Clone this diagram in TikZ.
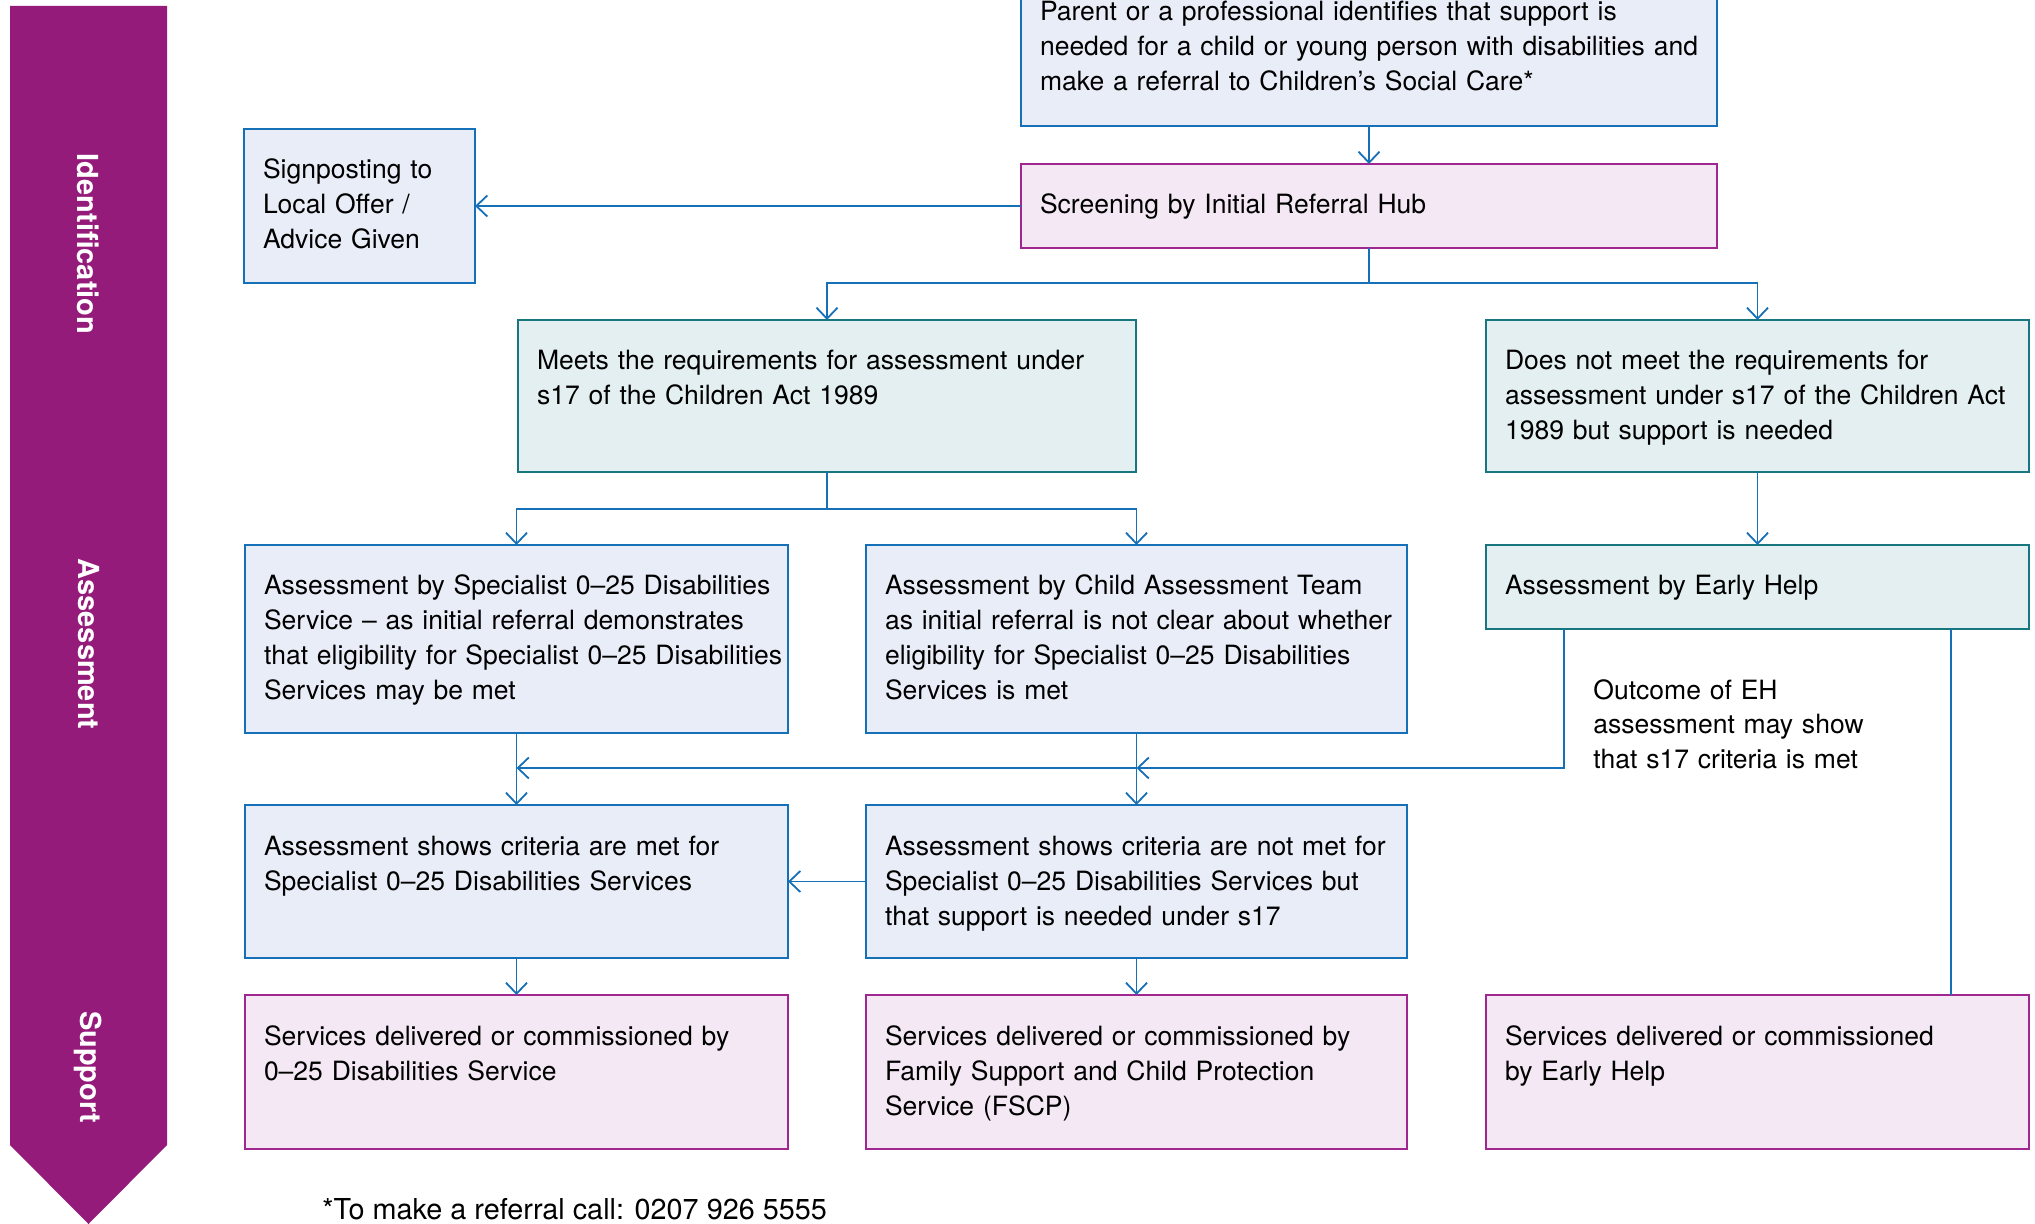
\documentclass[tikz,border=0pt]{standalone}
\usepackage{fontspec}
\setmainfont{TeX Gyre Heros}
\usetikzlibrary{arrows.meta}
\definecolor{bandpurple}{HTML}{951B7B}
\definecolor{lineblue}{HTML}{1570B8}
\definecolor{fillblue}{HTML}{E9EDF8}
\definecolor{lineteal}{HTML}{17767E}
\definecolor{fillteal}{HTML}{E3EFF0}
\definecolor{linepink}{HTML}{A0278F}
\definecolor{fillpink}{HTML}{F3E8F4}

\begin{document}
\begin{tikzpicture}[x=0.5pt, y=-0.5pt, >={Straight Barb[length=5.5pt,width=10.5pt]},
    box/.style={draw, line width=1.1pt, anchor=north west, align=left, inner xsep=9.5pt, inner ysep=0pt,
      outer sep=0pt, text height=25pt, font=\fontsize{13.26}{17.5}\selectfont,
      execute at begin node={\rightskip=0pt minus 20pt\relax}},
    wh/.style 2 args={text width=#1*0.5pt-19pt, text depth=#2*0.5pt-25pt},
    bluebox/.style={box, draw=lineblue, fill=fillblue},
    tealbox/.style={box, draw=lineteal, fill=fillteal},
    pinkbox/.style={box, draw=linepink, fill=fillpink},
    link/.style={draw=lineblue, line width=0.9pt},
    band/.style={rotate=-90, text=white, font=\fontsize{14.5}{17}\selectfont\bfseries}]
          \useasboundingbox (0,0) rectangle (2035,1224);

          \fill[bandpurple] (10,6) -- (167,6) -- (167,1145) -- (88.5,1224) -- (10,1145) -- cycle;
          \node (id) [band] at (88.5,244) {Identification};
          \node (as) [band] at (88.5,644) {Assessment};
          \node (su) [band] at (88.5,1067) {Support};

          \node (1) [bluebox, wh={696}{155}] at (1021,-29) {Parent or a professional identifies that support is\\needed for a child or young person with disabilities and\\make a referral to Children’s Social Care*};
          \node (2) [pinkbox, wh={696}{84}] at (1021,164) {Screening by Initial Referral Hub};
          \node (3) [bluebox, wh={231}{154}] at (244,129) {Signposting to\\Local Offer /\\Advice Given};
          \node (4) [tealbox, wh={618}{152}] at (518,320) {Meets the requirements for assessment under\\s17 of the Children Act 1989};
          \node (5) [tealbox, wh={543}{152}] at (1486,320) {Does not meet the requirements for\\assessment under s17 of the Children Act\\1989 but support is needed};
          \node (6) [bluebox, wh={543}{188}] at (245,545) {Assessment by Specialist 0--25 Disabilities\\Service -- as initial referral demonstrates\\that eligibility for Specialist 0--25 Disabilities\\Services may be met};
          \node (7) [bluebox, wh={541}{188}] at (866,545) {Assessment by Child Assessment Team\\as initial referral is not clear about whether\\eligibility for Specialist 0--25 Disabilities\\Services is met};
          \node (8) [tealbox, wh={543}{84}] at (1486,545) {Assessment by Early Help};
          \node (9) [bluebox, wh={543}{153}] at (245,805) {Assessment shows criteria are met for\\Specialist 0--25 Disabilities Services};
          \node (10) [bluebox, wh={541}{153}] at (866,805) {Assessment shows criteria are not met for\\Specialist 0--25 Disabilities Services but\\that support is needed under s17};
          \node (11) [pinkbox, wh={543}{154}] at (245,995) {Services delivered or commissioned by\\0--25 Disabilities Service};
          \node (12) [pinkbox, wh={541}{154}] at (866,995) {Services delivered or commissioned by\\Family Support and Child Protection\\Service (FSCP)};
          \node (13) [pinkbox, wh={543}{154}] at (1486,995) {Services delivered or commissioned\\by Early Help};

          \node (14) [anchor=base west, align=left, inner sep=0pt, text width=140pt, font=\fontsize{13.26}{17.25}\selectfont] at (1593,699) {Outcome of EH\\assessment may show\\that s17 criteria is met};
          \node (15) [anchor=base west, inner sep=0pt, font=\fontsize{14.4}{17}\selectfont] at (322,1219) {*To make a referral call: 0207 926 5555};

          \coordinate (s1) at (1369,283);
          \coordinate (s2) at (827,509);
          \coordinate (s3) at (1564,768);
          \coordinate (s4) at (1951,700);

          \path[->, every edge/.style={link}]
            (1.south) edge (2.north)
            (2.west) edge (3.east)
            (5.south) edge (8.north)
            (6.south) edge (9.north)
            (7.south) edge (10.north)
            (10.west) edge (9.east)
            (9.south) edge (11.north)
            (10.south) edge (12.north);

          \draw[link] (2.south) -- (s1);
          \draw[link, ->] (s1) -| (4.north);
          \draw[link, ->] (s1) -| (5.north);
          \draw[link] (4.south) -- (s2);
          \draw[link, ->] (s2) -| (6.north);
          \draw[link, ->] (s2) -| (7.north);
          \draw[link, ->] (8.south -| s3) -- (s3) -- (7.south |- s3);
          \draw[link, ->] (7.south |- s3) -- (6.south |- s3);
          \draw[link] (8.south -| s4) -- (13.north -| s4);

        \end{tikzpicture}
\end{document}
